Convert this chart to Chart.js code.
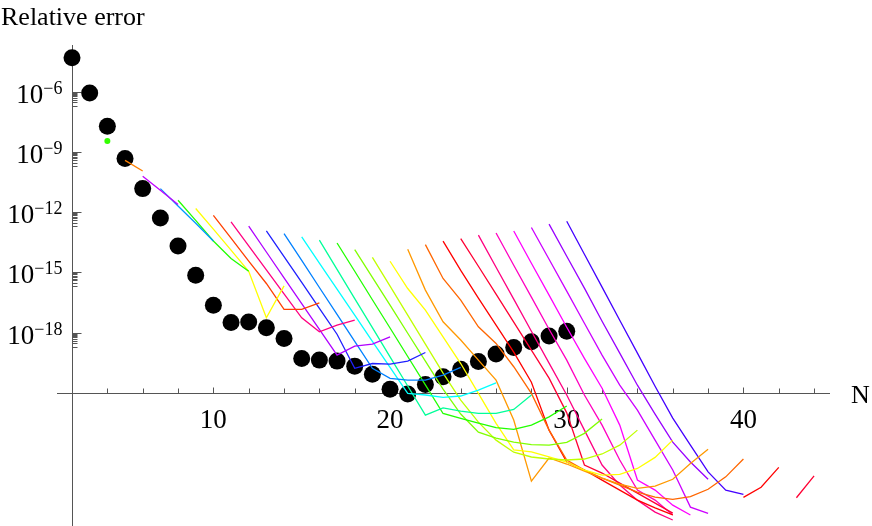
<!DOCTYPE html>
<html>
<head>
<meta charset="utf-8">
<script src="https://cdn.jsdelivr.net/npm/chart.js@4.4.1/dist/chart.umd.min.js"></script>
<style>
  html, body { margin: 0; padding: 0; background: #fff; }
  #wrap { width: 872px; height: 526px; position: relative; }
</style>
</head>
<body>
<div id="wrap"><canvas id="myChart"></canvas></div>
<script>
// everything below is log10 of the relative error

// big black dots, N = 2..30
const dotN = [2,3,4,5,6,7,8,9,10,11,12,13,14,15,16,17,18,19,20,21,22,23,24,25,26,27,28,29,30];
const dotLog = [-4.29,-6.05,-7.71,-9.32,-10.82,-12.28,-13.68,-15.14,-16.63,-17.49,-17.47,-17.76,-18.29,
  -19.29,-19.37,-19.42,-19.67,-20.08,-20.82,-21.06,-20.58,-20.20,-19.82,-19.44,-19.07,-18.74,-18.46,-18.17,-17.93];

// coloured curves, each one starts at N = its number (null = no value there)
const line04 = [-8.44];
const line05 = [-9.41,-9.94];
const line06 = [-10.20,-10.90,-11.61];
const line07 = [-10.82,-11.69,-12.55,-13.43];
const line08 = [-11.40,-12.40,-13.43,-14.30,-14.94];
const line09 = [-11.81,-12.84,-13.89,-14.94,-17.26,-15.67];
const line10 = [-12.15,-13.29,-14.44,-15.55,-16.84,-16.84,-16.52];
const line11 = [-12.48,-13.68,-14.87,-16.07,-17.26,-17.96,-17.63,-17.38];
const line12 = [-12.69,-13.98,-15.27,-16.55,-17.84,-19.12,-18.67,-18.57,-18.21];
const line13 = [-12.93,-14.21,-15.50,-16.79,-18.08,-19.78,-19.54,-19.57,-19.42,-18.99];
const line14 = [-13.06,-14.40,-15.75,-17.09,-18.44,-19.78,-20.28,-20.37,-20.37,-20.12,-19.73];
const line15 = [-13.23,-14.53,-15.83,-17.13,-18.43,-19.73,-21.03,-21.11,-21.23,-21.16,-20.87,-20.50];
const line16 = [-13.39,-14.85,-16.30,-17.75,-19.21,-20.66,-22.11,-21.75,-21.91,-22.03,-22.03,-21.83,-21.11];
const line17 = [-13.53,-14.94,-16.36,-17.77,-19.19,-20.60,-22.03,-22.28,-22.51,-22.74,-22.82,-22.61,-22.20,-21.66];
const line18 = [-13.86,-15.24,-16.63,-18.03,-19.42,-20.82,-22.06,-22.96,-23.26,-23.46,-23.58,-23.61,-23.47,-23.02,-22.31];
const line19 = [-14.25,-15.68,-17.13,-18.57,-20.02,-21.36,-22.46,-23.36,-23.96,-24.20,-24.30,-24.35,-24.30,-24.05,-23.61,-22.86];
const line20 = [-14.44,-15.80,-16.88,-18.21,-19.54,-21.03,-22.52,-23.85,-23.94,-24.19,-24.45,-24.85,-25.10,-25.07,-24.77,-24.22,-23.36];
const line21 = [-13.84,-15.88,-17.46,-18.37,-19.37,-20.37,-22.36,-25.40,-24.25,-24.55,-24.90,-25.25,-25.55,-25.76,-25.65,-25.31,-24.52,-23.81];
const line22 = [-13.61,-15.30,-16.38,-17.71,-18.54,-19.70,-21.03,-22.86,-24.35,-24.85,-25.25,-25.60,-25.95,-26.20,-26.31,-26.18,-25.81,-25.19,-24.30];
const line23 = [-13.44,-14.90,-16.28,-17.63,-18.97,-20.47,-22.86,-24.45,-24.85,-25.35,-25.85,-26.35,-26.74,-27.09,null,null,null,-26.21,-25.71,-24.72];
const line24 = [-13.31,-14.69,-16.08,-17.48,-18.87,-20.27,-22.00,-24.60,-25.00,-25.50,-26.00,-26.50,-27.00,null,null,null,null,null,null,-26.23,-25.14];
const line25 = [-13.14,-14.74,-16.33,-17.93,-19.52,-21.11,-22.86,-24.60,-25.60,-26.35,-26.95,-27.34];
const line26 = [-13.03,-14.64,-16.23,-17.83,-19.37,-21.11,-22.61,-24.35,-25.85,-26.35,-27.09];
const line27 = [-12.93,-14.54,-16.13,-17.73,-19.28,-20.77,-22.61,-25.35,-25.85,-26.60,-27.09];
const line28 = [-12.76,-14.34,-15.93,-17.53,-19.12,-20.62,-21.86,-23.36,-24.85,-26.70,-27.01];
const line29 = [-12.59,-14.19,-15.78,-17.43,-19.02,-20.62,-22.06,-23.46,-24.45,-25.31];
const line30 = [-12.45,-14.09,-15.73,-17.38,-19.02,-20.67,-22.26,-23.61,-24.94,-25.85,-26.06];

const lineStart = [4,5,6,7,8,9,10,11,12,13,14,15,16,17,18,19,20,21,22,23,24,25,26,27,28,29,30];
const lineLog = [line04,line05,line06,line07,line08,line09,line10,line11,line12,line13,line14,line15,line16,
  line17,line18,line19,line20,line21,line22,line23,line24,line25,line26,line27,line28,line29,line30];
const lineColor = ['#33ff00','#ff8000','#c000ff','#0099ff','#22ff00','#ffff00','#ff4000','#ff0080','#b000ff',
  '#2020ff','#0080ff','#00ffff','#00ff99','#22ff00','#80ff00','#c0ff00','#ffff00','#ff9900','#ff6600',
  '#ff0000','#ff0033','#ff0080','#ff00c0','#ff00ff','#cc00ff','#9900ff','#4400ff'];

// tick labels
const xTickLabels = [10, 20, 30, 40];
const yTickExp = [-6, -9, -12, -15, -18];

const pow = e => (e === null ? null : Math.pow(10, e));

const datasets = [];
lineLog.forEach((arr, i) => {
  datasets.push({
    data: arr.map((e, j) => ({ x: lineStart[i] + j, y: pow(e) })),
    borderColor: lineColor[i],
    backgroundColor: lineColor[i],
    borderWidth: 1.3,
    pointRadius: arr.length === 1 ? 3 : 0,
    pointBorderWidth: 0,
    showLine: true,
    spanGaps: false,
    order: 0
  });
});
datasets.push({
  data: dotN.map((n, i) => ({ x: n, y: pow(dotLog[i]) })),
  showLine: false,
  pointRadius: 8.5,
  pointBackgroundColor: '#000',
  pointBorderWidth: 0,
  order: 1
});

const serif = '"Liberation Serif", "Times New Roman", serif';

const mmaAxes = {
  id: 'mmaAxes',
  beforeDatasetsDraw(chart) {
    const { ctx, chartArea: a, scales: { x, y } } = chart;
    const ax = Math.round(x.getPixelForValue(2)) + 0.5;
    const ay = Math.round(y.getPixelForValue(1e-21)) + 0.5;
    ctx.save();
    ctx.strokeStyle = '#555';
    ctx.lineWidth = 1;
    ctx.beginPath();
    ctx.moveTo(a.left, ay); ctx.lineTo(a.right, ay);
    ctx.moveTo(ax, a.top); ctx.lineTo(ax, a.bottom);
    // x ticks every 2
    for (let n = 4; n <= 44; n += 2) {
      const px = Math.round(x.getPixelForValue(n)) + 0.5;
      ctx.moveTo(px, ay); ctx.lineTo(px, ay - (n % 10 === 0 ? 6 : 5));
    }
    // y ticks
    yTickExp.forEach(e => {
      const py = Math.round(y.getPixelForValue(pow(e))) + 0.5;
      ctx.moveTo(ax, py); ctx.lineTo(ax + 9, py);
      for (let m = 2; m <= 9; m++) {
        const q = Math.round(y.getPixelForValue(m * Math.pow(10, e - 1))) + 0.5;
        ctx.moveTo(ax, q); ctx.lineTo(ax + 5, q);
      }
    });
    ctx.stroke();

    ctx.fillStyle = '#000';
    ctx.font = '27px ' + serif;
    ctx.textAlign = 'center';
    ctx.textBaseline = 'alphabetic';
    xTickLabels.forEach(n => {
      ctx.fillText(String(n), x.getPixelForValue(n), ay + 34);
    });
    yTickExp.forEach(e => {
      const py = y.getPixelForValue(pow(e));
      const sup = '\u2212' + String(-e);
      ctx.font = '18px ' + serif;
      const ws = ctx.measureText(sup).width;
      ctx.textAlign = 'left';
      const right = ax - 10;
      ctx.fillText(sup, right - ws, py + 2);
      ctx.font = '27px ' + serif;
      ctx.textAlign = 'right';
      ctx.fillText('10', right - ws, py + 11);
    });
    ctx.font = '26px ' + serif;
    ctx.textAlign = 'left';
    ctx.fillText('Relative error', 1, 25);
    ctx.fillText('N', 851, ay + 9);
    ctx.restore();
  }
};

new Chart(document.getElementById('myChart'), {
  type: 'line',
  data: { datasets },
  options: {
    responsive: true,
    maintainAspectRatio: false,
    animation: false,
    layout: { autoPadding: false, padding: { left: 57, right: 42, top: 45, bottom: 0 } },
    plugins: { legend: { display: false }, tooltip: { enabled: false } },
    elements: { line: { tension: 0 } },
    scales: {
      x: { type: 'linear', min: 1.15, max: 44.9, display: false },
      y: { type: 'logarithmic', min: Math.pow(10, -27.64), max: Math.pow(10, -3.66), display: false }
    }
  },
  plugins: [mmaAxes]
});
</script>
</body>
</html>
